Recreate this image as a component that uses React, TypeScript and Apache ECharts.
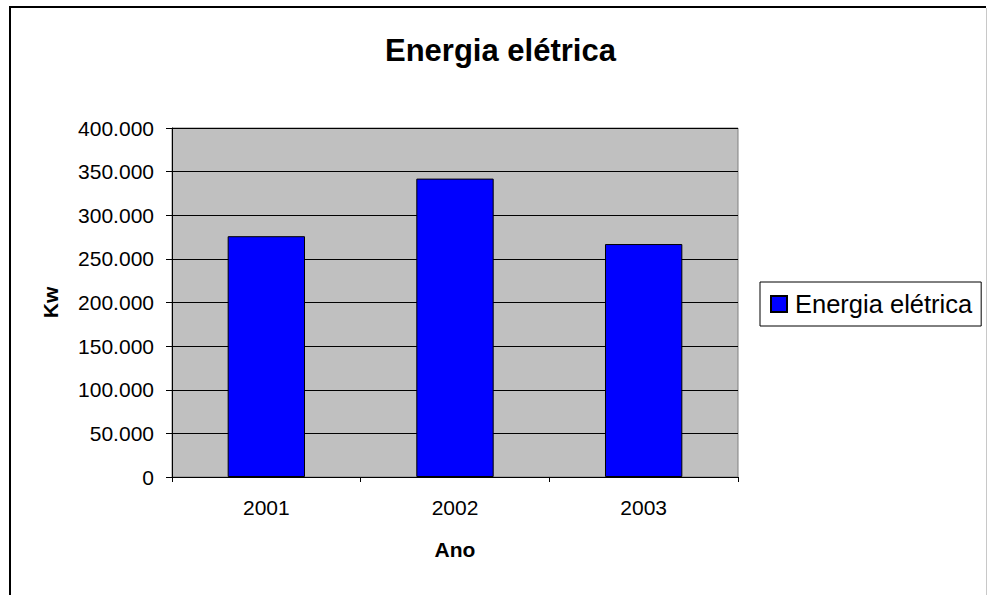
import React, { useEffect, useRef } from "react";
import * as echarts from "echarts";

const categories = ["2001", "2002", "2003"];
const seriesName = "Energia elétrica";
const values = [276000, 342000, 267000];
const titleText = "Energia elétrica";
const xAxisName = "Ano";
const yAxisName = "Kw";

const FONT = "'Liberation Sans', Arial, sans-serif";

function fmt(v: number): string {
  return String(v).replace(/\B(?=(\d{3})+(?!\d))/g, ".");
}

export default function App() {
  const ref = useRef<HTMLDivElement>(null);
  useEffect(() => {
    if (!ref.current) return;
    const chart = echarts.init(ref.current, null, { renderer: "svg" });
    chart.setOption({
      animation: false,
      backgroundColor: "#ffffff",
      title: {
        text: titleText,
        left: 385,
        top: 35,
        padding: 0,
        textStyle: { fontFamily: FONT, fontSize: 31, fontWeight: "bold", color: "#000" },
      },
      legend: {
        data: [seriesName],
        left: 760,
        top: 282,
        orient: "vertical",
        padding: [9, 9, 9, 10],
        borderColor: "#000",
        borderWidth: 1,
        itemWidth: 16,
        itemHeight: 16,
        selectedMode: false,
        icon: "rect",
        textStyle: { fontFamily: FONT, fontSize: 25.5, color: "#000", padding: [0, 0, 0, 3] },
      },
      grid: {
        left: 172,
        top: 128,
        width: 566,
        height: 349,
        show: true,
        backgroundColor: "#c0c0c0",
        borderColor: "#808080",
        borderWidth: 1,
        containLabel: false,
      },
      xAxis: {
        type: "category",
        data: categories,
        boundaryGap: true,
        name: xAxisName,
        nameLocation: "middle",
        nameGap: 62,
        nameTextStyle: { fontFamily: FONT, fontSize: 21, fontWeight: "bold", color: "#000" },
        axisLine: { show: true, lineStyle: { color: "#000", width: 1 } },
        axisTick: { show: true, length: 5, alignWithLabel: false, lineStyle: { color: "#000" } },
        axisLabel: { fontFamily: FONT, fontSize: 21, color: "#000", margin: 20 },
        splitLine: { show: false },
      },
      yAxis: {
        type: "value",
        min: 0,
        max: 400000,
        interval: 50000,
        name: yAxisName,
        nameLocation: "middle",
        nameGap: 111,
        nameRotate: 90,
        nameTextStyle: { fontFamily: FONT, fontSize: 21, fontWeight: "bold", color: "#000" },
        axisLine: { show: true, lineStyle: { color: "#000", width: 1 } },
        axisTick: { show: true, length: 6, inside: false, lineStyle: { color: "#000" } },
        axisLabel: { fontFamily: FONT, fontSize: 21, color: "#000", margin: 18, formatter: (v: number) => fmt(v) },
        splitLine: { show: true, lineStyle: { color: "#000", width: 1 } },
      },
      series: [
        {
          name: seriesName,
          type: "bar",
          data: values,
          barWidth: "41%",
          itemStyle: { color: "#0000ff", borderColor: "#000", borderWidth: 1 },
        },
      ],
      graphic: [
        { type: "line", shape: { x1: 10, y1: 6, x2: 10, y2: 600 }, style: { stroke: "#000", lineWidth: 2 } },
        { type: "line", shape: { x1: 9, y1: 7, x2: 986, y2: 7 }, style: { stroke: "#000", lineWidth: 2 } },
        { type: "line", shape: { x1: 986.5, y1: 8, x2: 986.5, y2: 600 }, style: { stroke: "#c8c8c8", lineWidth: 1 } },
      ],
    });
    return () => chart.dispose();
  }, []);
  return (
    <div
      ref={ref}
      style={{ position: "absolute", left: 0, top: 0, width: 987, height: 595 }}
    />
  );
}
